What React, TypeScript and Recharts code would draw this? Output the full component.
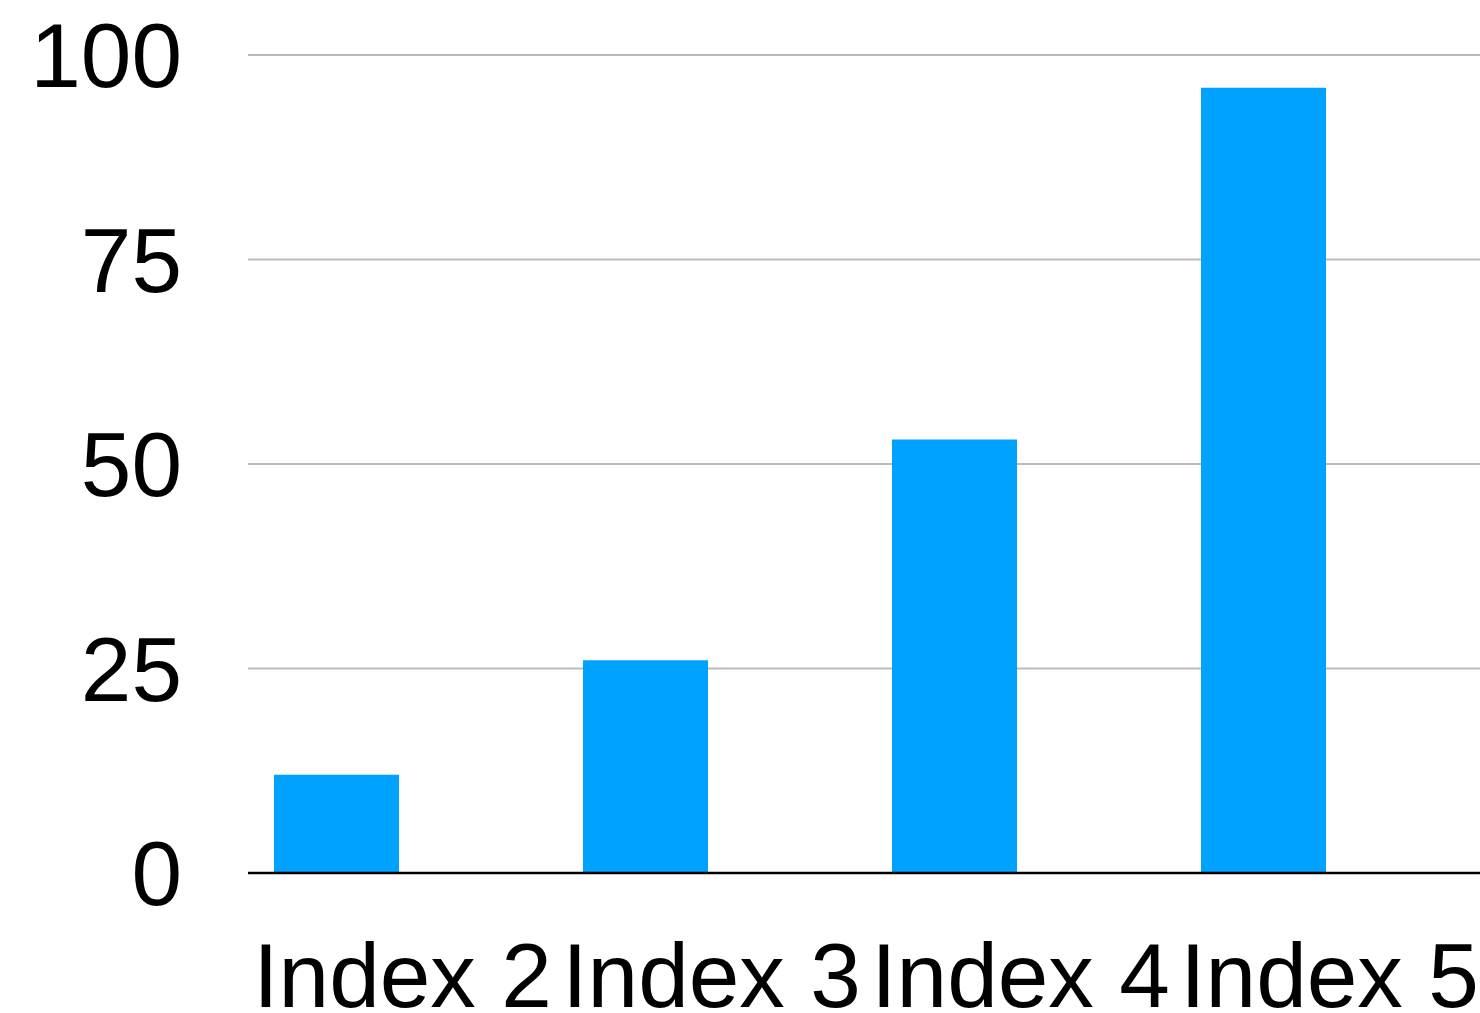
import React from 'react';
import { BarChart, Bar, XAxis, YAxis, CartesianGrid } from 'recharts';

// Category labels along the x axis
const categories = ['Index 2', 'Index 3', 'Index 4', 'Index 5'];
// Values of the filled column series
const seriesValues = [12, 26, 53, 96];
// Second column slot of each group, left empty
const emptySeries: (number | null)[] = [null, null, null, null];
// Y axis tick values
const yTicks = [0, 25, 50, 75, 100];

const data = categories.map((name, i) => ({
  name,
  value: seriesValues[i],
  empty: emptySeries[i],
}));

const FONT = '"Liberation Sans", Arial, Helvetica, sans-serif';

export default function App() {
  return (
    <div
      style={{
        position: 'absolute',
        left: 0,
        top: 0,
        width: 1480,
        height: 1013,
        overflow: 'hidden',
        background: '#ffffff',
      }}
    >
      <BarChart
        width={1484}
        height={1013}
        data={data}
        margin={{ top: 55, right: 0, bottom: 0, left: 0 }}
        barGap={7}
        style={{ fontFamily: FONT }}
      >
        <CartesianGrid vertical={false} stroke="#bbbbbb" strokeWidth={2} />
        <XAxis
          dataKey="name"
          height={140}
          tickLine={false}
          tickSize={0}
          tickMargin={69}
          axisLine={{ stroke: '#000000', strokeWidth: 2.5 }}
          tick={{ fill: '#000000', fontSize: 91, fontFamily: FONT }}
          interval={0}
        />
        <YAxis
          width={248}
          domain={[0, 100]}
          ticks={yTicks}
          axisLine={false}
          tickLine={false}
          tickSize={0}
          tickMargin={66}
          tick={{ fill: '#000000', fontSize: 91, fontFamily: FONT }}
        />
        <Bar dataKey="value" fill="#00A2FF" barSize={125} isAnimationActive={false} />
        <Bar dataKey="empty" fill="#00A2FF" barSize={125} isAnimationActive={false} />
      </BarChart>
    </div>
  );
}
